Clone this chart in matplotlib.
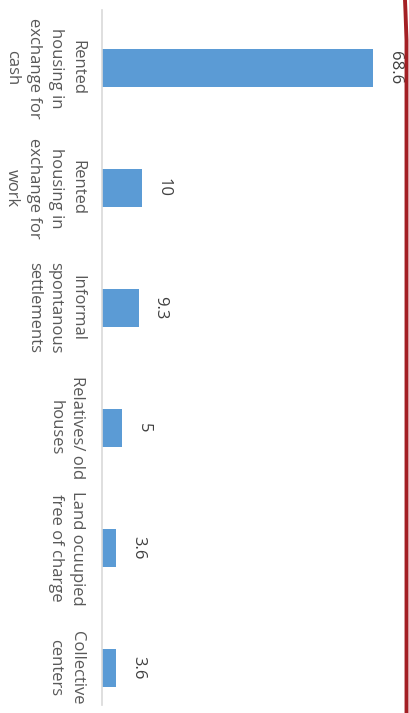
import matplotlib.pyplot as plt
from matplotlib.lines import Line2D

# Data
categories = [
    "Rented\nhousing in\nexchange for\ncash",
    "Rented\nhousing in\nexchange for\nwork",
    "Informal\nspontanous\nsettlements",
    "Relatives/ old\nhouses",
    "Land ocuupied\nfree of charge",
    "Collective\ncenters",
]
values = [68.6, 10, 9.3, 5, 3.6, 3.6]
value_labels = ["68.6", "10", "9.3", "5", "3.6", "3.6"]

plt.rcParams['font.family'] = ['Open Sans', 'DejaVu Sans']

W, H = 409, 713
fig = plt.figure(figsize=(W / 100, H / 100), dpi=100)
ax = fig.add_axes([102 / W, 0, 1 - 102 / W, 1])

pos = list(range(len(values)))
ax.barh(pos, values, height=0.32, color='#5b9bd5')

ax.set_ylim((H - 68) / 120, -68 / 120)
ax.set_xlim(0, (W - 102) / 3.95)

ax.set_yticks(pos)
ax.set_yticklabels(categories, rotation=-90, ha='right', va='center',
                   multialignment='center', fontsize=12, color='#595959',
                   linespacing=1.48)
ax.tick_params(axis='y', length=0, pad=12)
ax.set_xticks([])

for s in ['top', 'right', 'bottom']:
    ax.spines[s].set_visible(False)
ax.spines['left'].set_color('#d9d9d9')
ax.spines['left'].set_linewidth(1.2)
ax.spines['left'].set_bounds(-0.48, 5.31)

for p, v, lab in zip(pos, values, value_labels):
    ax.annotate(lab, (v, p), xytext=(10, 0), textcoords='offset points',
                rotation=-90, ha='left', va='center', fontsize=12,
                color='#404040')

# red slide border at the right edge
fig.add_artist(Line2D([405 / W, 405.5 / W, 406.5 / W, 406.5 / W],
                      [1.0, 1 - 12 / H, 1 - 40 / H, 0.0],
                      transform=fig.transFigure, color='#a31f24',
                      linewidth=2.8))

fig.savefig("out.png", dpi=100)
